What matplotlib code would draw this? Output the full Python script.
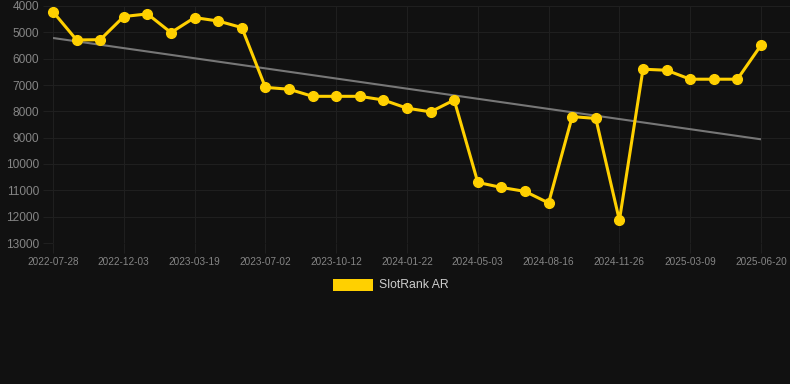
"""SlotRank AR rank history with linear trend, dark theme."""

import numpy as np
import matplotlib
matplotlib.use('Agg')
import matplotlib.pyplot as plt

# rank per observation (lower is better, axis is inverted)
ranks = [4220, 5290, 5280, 4400, 4300, 5010, 4440, 4570, 4820,
         7090, 7160, 7430, 7430, 7430, 7570, 7880, 8020, 7570,
         10700, 10890, 11040, 11480, 8200, 8270, 12140,
         6400, 6440, 6780, 6780, 6780, 5490]
tick_labels = ['2022-07-28', '2022-12-03', '2023-03-19', '2023-07-02',
               '2023-10-12', '2024-01-22', '2024-05-03', '2024-08-16',
               '2024-11-26', '2025-03-09', '2025-06-20']
y_ticks = [4000, 5000, 6000, 7000, 8000, 9000, 10000, 11000, 12000, 13000]
series_name = 'SlotRank AR'

BG = '#111111'
GRID = '#1f1f1f'
TEXT = '#858585'
YELLOW = '#ffd000'

plt.rcParams['font.family'] = ['Liberation Sans', 'DejaVu Sans']

W, H = 790, 384
fig = plt.figure(figsize=(W / 100, H / 100), dpi=100, facecolor=BG)
# chart area in pixels: left 53, right edge 790, top 6, bottom 243
x0, x1, y0, y1 = 53, 790, 6, 243
ax = fig.add_axes([x0 / W, 1 - y1 / H, (x1 - x0) / W, (y1 - y0) / H])
ax.set_facecolor(BG)

idx = np.arange(len(ranks))
step = (761 - 53) / (len(ranks) - 1)
ax.set_xlim(0, (x1 - x0) / step)
ax.set_ylim(13000, 4000)

coef = np.polyfit(idx, ranks, 1)
ax.plot(idx[[0, -1]], np.polyval(coef, idx[[0, -1]]), color='#777777',
        lw=1.5, zorder=2, solid_capstyle='butt')
ax.plot(idx, ranks, color=YELLOW, lw=2.2, marker='o', markersize=7,
        zorder=3, clip_on=False)

ax.set_yticks(y_ticks)
ax.set_yticklabels([str(v) for v in y_ticks], fontsize=8.6, color=TEXT)
tick_pos = idx[::3]
ax.set_xticks(tick_pos)
ax.set_xticklabels(tick_labels, fontsize=7.2, color=TEXT)
ax.tick_params(axis='both', length=7, width=0.8, color=GRID, pad=3)
ax.grid(True, color=GRID, lw=0.8)
ax.set_axisbelow(True)
for s in ax.spines.values():
    s.set_visible(False)

# legend box and label
fig.patches.append(matplotlib.patches.Rectangle(
    (333 / W, 1 - 291 / H), 40 / W, 12 / H, transform=fig.transFigure,
    facecolor=YELLOW, edgecolor='none'))
fig.text(379 / W, 1 - 285 / H, series_name, fontsize=8.8, color='#cccccc',
         va='center', ha='left')

fig.savefig('out.png', dpi=100, facecolor=BG)
